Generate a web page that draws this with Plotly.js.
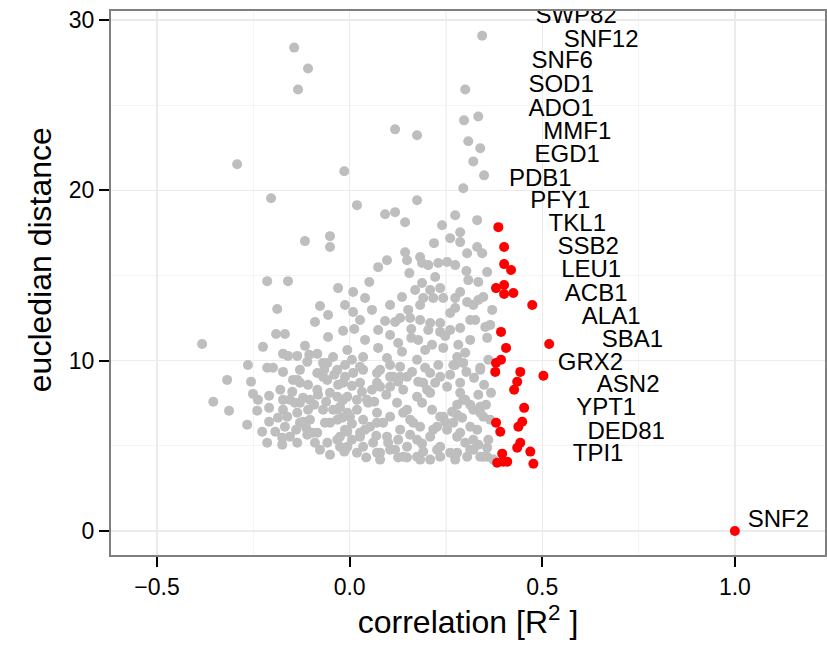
<!DOCTYPE html>
<html>
<head>
<meta charset="utf-8">
<script src="https://cdn.plot.ly/plotly-3.0.1.min.js"></script>
<style>html,body{margin:0;padding:0;background:#fff;}#chart{width:827px;height:647px;}</style>
</head>
<body>
<div id="chart"></div>
<script>
// grey (not selected) genes: correlation R^2 and euclidean distance
const greyR = [
-0.144,-0.108,-0.134,0.344,0.300,0.334,0.297,0.118,0.175,0.308,0.339,0.321,0.349,0.295,-0.292,-0.014,-0.204,0.019,0.175,0.092,
0.118,0.144,0.240,0.274,0.331,0.287,0.261,0.219,0.287,0.331,0.344,0.305,-0.116,-0.051,-0.051,0.144,0.149,0.097,0.074,0.183,
0.188,0.204,0.230,0.253,0.274,-0.214,-0.160,-0.030,0.155,0.222,0.303,0.357,0.334,0.308,0.051,0.009,0.040,0.136,0.170,0.188,
0.209,0.235,0.191,0.217,0.243,0.287,0.274,0.274,0.305,0.321,0.347,0.370,0.352,0.326,0.357,-0.188,-0.077,-0.056,-0.090,-0.056,
-0.017,-0.191,-0.168,-0.383,-0.225,-0.116,-0.173,-0.160,-0.136,-0.105,-0.084,-0.264,-0.214,-0.199,-0.173,-0.318,-0.256,-0.251,-0.209,-0.354,
-0.313,-0.240,-0.209,-0.266,-0.209,-0.214,-0.193,-0.168,-0.155,-0.136,-0.129,-0.147,-0.108,-0.069,-0.110,-0.069,-0.043,-0.032,-0.084,-0.129,
-0.103,-0.069,-0.032,-0.017,-0.103,-0.129,-0.051,-0.084,-0.058,-0.025,-0.012,-0.032,-0.155,-0.173,-0.006,-0.090,-0.025,
0.092,0.152,0.157,0.183,0.209,0.235,0.261,0.287,0.261,0.235,0.204,0.160,0.160,0.105,0.126,0.012,0.009,0.074,0.035,-0.006,
0.097,0.105,0.175,0.196,0.243,0.279,0.274,0.300,0.313,0.339,0.287,0.367,0.321,0.300,0.279,0.279,0.339,0.347,0.331,0.360,
0.357,0.321,0.300,0.279,0.253,0.235,0.214,0.188,0.201,0.222,0.253,0.235,0.209,0.178,0.149,0.131,0.105,0.079,0.071,0.035,
0.009,-0.012,0.027,0.058,0.048,0.019,-0.006,-0.025,0.001,0.035,0.071,0.105,0.139,0.165,0.131,0.097,0.061,0.027,-0.006,0.019,
0.079,0.118,0.149,0.175,0.209,0.235,0.191,0.261,0.305,0.149,0.209,0.339,-0.012,0.357,0.105,0.139,0.175,0.227,0.279,0.313,
0.347,0.373,0.071,0.035,-0.014,
-0.180,-0.121,-0.173,-0.142,-0.108,-0.136,-0.162,-0.121,-0.064,-0.032,-0.006,-0.032,-0.051,-0.030,-0.110,-0.136,-0.097,
0.269,0.295,0.339,0.287,0.295,0.339,0.243,0.269,0.313,0.321,0.287,0.227,0.183,0.157,0.149,0.123,0.175,0.209,0.191,
0.139,0.105,0.071,0.079,0.113,0.045,0.019,0.071,0.087,0.053,0.027,-0.017,-0.058,-0.084,-0.058,0.027,0.131,
-0.082,-0.061,-0.043,-0.019,0.006,0.040,0.069,0.100,0.126,0.157,0.188,0.217,0.248,0.266,0.292,0.313,0.334,0.349,0.323,0.303,
0.261,0.230,0.196,0.162,0.126,0.095,0.064,0.032,0.006,-0.040,-0.066,-0.092,-0.113,-0.139,-0.175,-0.186,-0.227,-0.238,-0.149,0.006,
0.040,0.074,0.118,0.136,0.178,0.214,0.248,0.282,0.313,0.334,0.365,0.360,0.354,0.365,0.334,0.274,0.235,0.183,0.126,0.079,
0.043,0.006,-0.051,-0.077,-0.175,-0.129,-0.012,0.183,0.131,0.105,0.058,0.027,-0.012
];
const greyDist = [
28.38,27.15,25.92,29.08,25.92,24.34,24.11,23.58,23.23,22.88,22.47,21.70,20.88,20.12,21.53,21.12,19.54,19.13,19.42,18.60,
18.72,18.13,17.95,18.54,18.25,17.54,17.19,16.90,16.96,16.67,16.31,16.31,17.02,17.31,16.67,16.37,15.90,15.90,15.49,16.08,
15.73,15.61,15.73,15.79,15.61,14.67,14.67,14.26,15.14,14.91,15.26,15.20,14.62,14.73,14.62,14.03,13.68,13.74,14.15,14.56,
14.15,14.26,13.68,13.68,13.68,14.03,13.68,13.09,13.44,13.27,13.74,12.98,11.98,12.39,11.34,13.03,13.21,12.68,12.27,11.39,
11.75,11.57,11.57,10.98,10.81,10.87,10.40,10.28,10.28,10.34,10.40,9.75,9.58,9.58,9.34,8.87,8.76,8.05,7.94,7.59,
7.06,7.06,7.23,6.24,6.41,5.18,5.83,6.12,5.54,5.18,8.70,8.87,8.58,9.05,9.93,9.87,10.22,9.46,8.29,7.53,
7.70,7.12,7.88,8.70,6.53,6.36,6.36,5.77,5.18,5.54,4.77,7.12,7.70,7.12,6.94,5.18,4.95,
12.33,12.98,12.51,12.39,12.21,12.21,12.80,11.92,11.80,11.69,11.80,11.86,11.34,11.51,11.04,11.86,12.86,10.75,10.22,10.63,
10.16,9.75,10.05,10.63,10.75,10.22,9.75,10.46,11.22,9.58,8.70,8.11,7.12,7.70,7.41,6.82,7.29,6.71,5.95,5.36,
4.36,4.77,5.18,5.54,5.95,6.71,7.12,7.53,8.29,8.70,8.47,9.05,9.28,8.76,9.05,9.64,9.05,8.47,9.28,9.46,
9.28,9.05,8.70,8.29,7.53,7.70,7.88,7.29,6.71,6.53,6.36,6.71,6.94,6.36,5.95,5.54,5.18,5.54,4.95,4.60,
4.60,4.77,4.95,5.36,5.54,4.95,4.66,4.60,4.36,4.31,4.19,4.36,5.95,4.89,4.77,4.36,4.36,4.77,4.60,4.77,
4.36,4.19,4.60,4.95,4.66,
8.29,7.82,7.70,7.53,7.12,6.94,6.71,6.41,6.36,6.53,5.83,5.36,8.11,8.58,5.65,8.87,5.77,
9.75,9.87,9.46,8.11,7.70,6.94,6.71,6.36,6.12,5.36,5.77,6.12,6.12,6.53,7.12,7.53,7.88,8.11,8.70,
8.29,8.47,8.70,9.46,9.05,7.70,7.12,6.94,6.36,6.12,5.77,7.70,8.87,9.28,9.87,9.64,9.05,
8.00,7.59,7.12,6.65,6.30,5.95,5.59,5.18,5.36,5.65,5.13,5.95,6.41,7.00,6.65,7.41,8.00,8.58,8.99,9.34,
9.17,9.75,9.58,9.34,8.76,8.00,7.59,8.17,8.52,9.17,9.46,7.41,6.06,5.95,5.48,6.65,5.83,7.70,8.17,10.05,
11.22,11.80,12.27,10.52,11.22,10.93,11.45,10.93,12.39,13.56,12.10,10.05,7.41,6.53,5.07,4.19,4.36,4.19,4.31,4.19,
4.31,5.36,4.48,4.77,5.07,9.46,9.75,13.27,12.51,13.27,12.98,12.39,13.27
];
// red (selected) genes
const redR = [0.386,0.401,0.401,0.419,0.380,0.401,0.425,0.401,0.474,0.393,0.406,0.518,0.393,0.380,0.378,0.503,0.443,0.435,0.427,0.453,
0.448,0.438,0.380,0.391,0.443,0.435,0.469,0.477,0.396,0.399,0.383,0.409,1.0];
const redDist = [17.84,16.67,15.67,15.32,14.26,14.44,13.97,13.91,13.27,11.69,10.75,10.98,10.05,9.87,9.34,9.11,9.34,8.76,8.29,7.23,
6.41,6.12,6.36,5.83,5.18,4.89,4.66,3.95,4.54,4.07,4.01,4.07,0.0];
// gene labels and the spot where each label sits
const geneNames = ["SWP82","SNF12","SNF6","SOD1","ADO1","MMF1","EGD1","PDB1","PFY1","TKL1","SSB2","LEU1","ACB1","ALA1","SBA1","GRX2","ASN2","YPT1","DED81","TPI1","SNF2"];
const labelR = [0.588,0.653,0.552,0.549,0.549,0.591,0.565,0.495,0.547,0.591,0.619,0.627,0.640,0.679,0.734,0.625,0.723,0.666,0.718,0.645,1.113];
const labelDist = [30.17,28.74,27.51,26.11,24.70,23.35,22.00,20.60,19.31,17.96,16.61,15.27,13.86,12.51,11.17,9.82,8.53,7.18,5.78,4.49,0.56];

const xTickVals = [-0.5, 0, 0.5, 1.0];
const xTickText = ["\u22120.5", "0.0", "0.5", "1.0"];
const yTickVals = [0, 10, 20, 30];
const yTickText = ["0", "10", "20", "30"];

const FONT = "Liberation Sans, Arial, Helvetica, sans-serif";

const traces = [
  {x: greyR, y: greyDist, type: "scatter", mode: "markers",
   marker: {color: "#bebebe", size: 10, line: {width: 0}}, hoverinfo: "skip"},
  {x: redR, y: redDist, type: "scatter", mode: "markers",
   marker: {color: "#ff0000", size: 10, line: {width: 0}}, hoverinfo: "skip"},
  {x: labelR, y: labelDist, text: geneNames, type: "scatter", mode: "text",
   textposition: "middle center", cliponaxis: true,
   textfont: {family: FONT, size: 24, color: "#000"}, hoverinfo: "skip"}
];

const layout = {
  width: 827, height: 647,
  margin: {l: 111, r: 2, t: 11, b: 92, pad: 0},
  paper_bgcolor: "#fff", plot_bgcolor: "#fff",
  showlegend: false,
  font: {family: FONT, color: "#000"},
  xaxis: {
    range: [-0.6195, 1.234], tickmode: "array", tickvals: xTickVals, ticktext: xTickText,
    ticks: "outside", ticklen: 10, tickwidth: 2, tickcolor: "#000",
    tickfont: {family: FONT, size: 23, color: "#000"},
    showgrid: true, gridcolor: "#ebebeb", gridwidth: 1.5,
    minor: {tickmode: "array", tickvals: [-0.25, 0.25, 0.75], showgrid: true, gridcolor: "#f4f4f4", gridwidth: 1.2, ticks: ""},
    zeroline: false, showline: true, mirror: true, linecolor: "#7f7f7f", linewidth: 2,
    title: {text: "correlation [R<sup>2</sup> ]", font: {family: FONT, size: 32, color: "#000"}, standoff: 9}
  },
  yaxis: {
    range: [-1.41, 30.53], tickmode: "array", tickvals: yTickVals, ticktext: yTickText,
    ticks: "outside", ticklen: 10, tickwidth: 2, tickcolor: "#000",
    tickfont: {family: FONT, size: 23, color: "#000"},
    showgrid: true, gridcolor: "#ebebeb", gridwidth: 1.5,
    minor: {tickmode: "array", tickvals: [5, 15, 25], showgrid: true, gridcolor: "#f4f4f4", gridwidth: 1.2, ticks: ""},
    zeroline: false, showline: true, mirror: true, linecolor: "#7f7f7f", linewidth: 2
  },
  annotations: [{
    text: "eucledian distance", xref: "paper", yref: "paper", x: -0.0994, y: 0.542,
    xanchor: "center", yanchor: "middle", textangle: -90, showarrow: false,
    font: {family: FONT, size: 32, color: "#000"}
  }]
};

Plotly.newPlot("chart", traces, layout, {displayModeBar: false, staticPlot: true});
</script>
</body>
</html>
